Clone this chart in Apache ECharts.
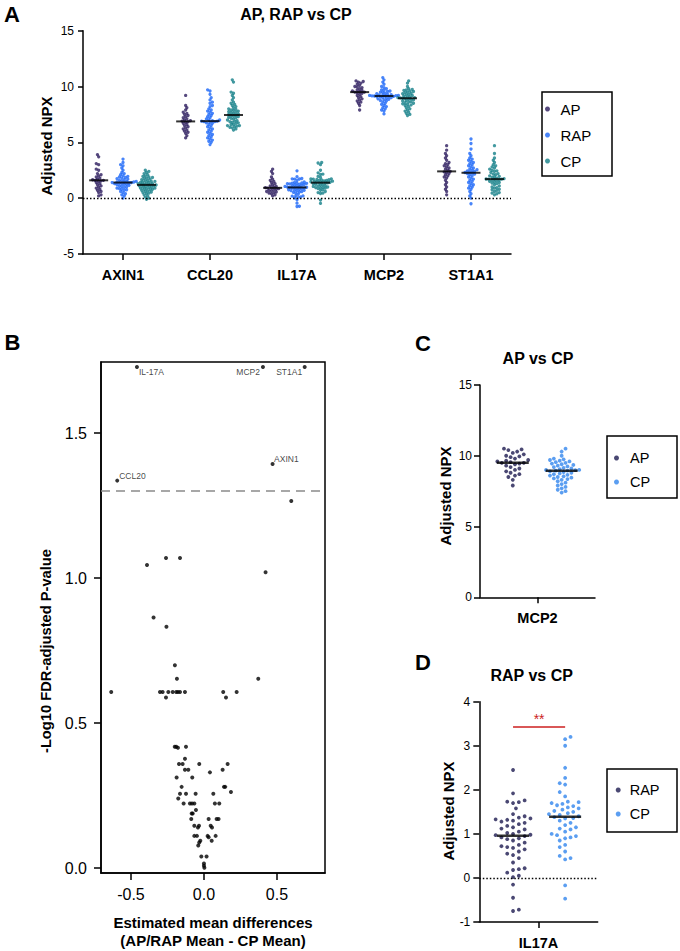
<!DOCTYPE html>
<html><head><meta charset="utf-8">
<script src="https://cdn.jsdelivr.net/npm/echarts@6/dist/echarts.min.js"></script>
<style>html,body{margin:0;padding:0;background:#fff}#c{width:680px;height:951px}</style>
</head><body><div id="c"></div>
<script>
// ---------------- DATA ----------------
// Panel A: Adjusted NPX per gene and group
const genesA = ['AXIN1', 'CCL20', 'IL17A', 'MCP2', 'ST1A1'];
const groupsA = ['AP', 'RAP', 'CP'];

const AXIN1_AP = [3.9, 3.7, 3.1, 3.0, 2.6, 2.5, 2.2, 2.1, 2.0, 1.9, 1.8, 1.7, 1.65, 1.6, 1.6, 1.55, 1.5, 1.4, 1.3, 1.2, 1.1, 1.0, 0.9, 0.8, 0.7, 0.6, 0.5, 0.3, 0.2];
const AXIN1_RAP = [3.5, 3.2, 3.0, 2.9, 2.7, 2.5, 2.3, 2.2, 2.1, 2.0, 1.95, 1.9, 1.85, 1.8, 1.75, 1.7, 1.65, 1.6, 1.55, 1.5, 1.5, 1.45, 1.45, 1.42, 1.4, 1.4, 1.38, 1.35, 1.3, 1.3, 1.25, 1.2, 1.2, 1.15, 1.1, 1.05, 1.0, 0.95, 0.9, 0.85, 0.8, 0.75, 0.7, 0.6, 0.5, 0.4, 0.3, 0.2, 0.0];
const AXIN1_CP = [2.5, 2.4, 2.3, 2.2, 2.1, 2.0, 1.95, 1.9, 1.85, 1.8, 1.75, 1.7, 1.65, 1.6, 1.55, 1.5, 1.5, 1.45, 1.4, 1.4, 1.35, 1.3, 1.3, 1.25, 1.2, 1.2, 1.18, 1.15, 1.1, 1.1, 1.05, 1.0, 1.0, 0.95, 0.9, 0.9, 0.85, 0.8, 0.8, 0.75, 0.7, 0.65, 0.6, 0.55, 0.5, 0.45, 0.4, 0.3, 0.2, 0.1, 0.0, -0.1];

const CCL20_AP = [9.2, 8.3, 8.1, 7.9, 7.7, 7.6, 7.5, 7.4, 7.3, 7.2, 7.1, 7.0, 6.95, 6.9, 6.85, 6.8, 6.7, 6.6, 6.5, 6.4, 6.3, 6.2, 6.1, 6.0, 5.9, 5.8, 5.6, 5.4];
const CCL20_RAP = [9.7, 9.6, 9.3, 9.0, 8.8, 8.6, 8.5, 8.3, 8.2, 8.0, 7.9, 7.8, 7.7, 7.6, 7.5, 7.4, 7.3, 7.2, 7.1, 7.0, 7.0, 6.95, 6.9, 6.9, 6.85, 6.85, 6.8, 6.75, 6.7, 6.6, 6.5, 6.4, 6.3, 6.2, 6.1, 6.0, 5.9, 5.8, 5.7, 5.6, 5.5, 5.4, 5.3, 5.2, 5.1, 5.0, 4.8];
const CCL20_CP = [10.6, 10.4, 9.5, 9.4, 9.2, 9.0, 8.8, 8.6, 8.5, 8.4, 8.3, 8.2, 8.1, 8.0, 7.95, 7.9, 7.85, 7.8, 7.75, 7.7, 7.65, 7.6, 7.55, 7.5, 7.45, 7.4, 7.35, 7.3, 7.25, 7.2, 7.15, 7.1, 7.0, 6.95, 6.9, 6.85, 6.8, 6.75, 6.7, 6.6, 6.6, 6.5, 6.5, 6.45, 6.4, 6.35, 6.3, 6.2, 6.1];

const IL17A_AP = [2.6, 2.4, 2.2, 1.9, 1.7, 1.6, 1.5, 1.4, 1.3, 1.2, 1.1, 1.05, 1.0, 0.95, 0.9, 0.9, 0.85, 0.8, 0.75, 0.7, 0.65, 0.6, 0.55, 0.5, 0.45, 0.4, 0.3, 0.2];
const IL17A_RAP = [2.45, 1.92, 1.76, 1.73, 1.72, 1.7, 1.58, 1.45, 1.4, 1.37, 1.35, 1.33, 1.32, 1.3, 1.28, 1.25, 1.22, 1.18, 1.15, 1.12, 1.1, 1.05, 1.02, 1.0, 0.98, 0.97, 0.95, 0.92, 0.9, 0.88, 0.85, 0.8, 0.75, 0.72, 0.7, 0.68, 0.65, 0.6, 0.55, 0.52, 0.45, 0.35, 0.22, 0.2, 0.18, 0.12, 0.05, 0.02, -0.15, -0.45, -0.72, -0.75];
const IL17A_CP = [3.2, 3.15, 3.0, 2.5, 2.27, 2.15, 2.12, 1.95, 1.85, 1.73, 1.72, 1.7, 1.68, 1.65, 1.63, 1.6, 1.58, 1.55, 1.52, 1.5, 1.47, 1.45, 1.43, 1.4, 1.38, 1.36, 1.35, 1.3, 1.25, 1.2, 1.15, 1.12, 1.1, 1.05, 1.0, 0.97, 0.95, 0.92, 0.9, 0.85, 0.75, 0.7, 0.6, 0.5, 0.45, 0.42, -0.17, -0.47];

const MCP2_AP = [10.5, 10.45, 10.4, 10.3, 10.2, 10.1, 10.0, 9.95, 9.9, 9.8, 9.7, 9.65, 9.6, 9.55, 9.5, 9.5, 9.45, 9.4, 9.3, 9.2, 9.1, 9.0, 8.9, 8.8, 8.7, 8.6, 8.5, 8.3, 7.9];
const MCP2_RAP = [10.8, 10.6, 10.4, 10.2, 10.0, 9.9, 9.8, 9.7, 9.65, 9.6, 9.55, 9.5, 9.45, 9.4, 9.35, 9.3, 9.28, 9.25, 9.22, 9.2, 9.2, 9.18, 9.16, 9.15, 9.15, 9.12, 9.1, 9.1, 9.05, 9.0, 9.0, 8.95, 8.9, 8.85, 8.8, 8.75, 8.7, 8.6, 8.5, 8.4, 8.3, 8.2, 8.1, 8.0, 7.9, 7.8, 7.55];
const MCP2_CP = [10.5, 10.3, 10.0, 9.8, 9.75, 9.7, 9.65, 9.6, 9.55, 9.5, 9.45, 9.4, 9.35, 9.3, 9.25, 9.2, 9.15, 9.1, 9.05, 9.0, 9.0, 8.98, 8.95, 8.95, 8.9, 8.85, 8.8, 8.75, 8.7, 8.65, 8.6, 8.55, 8.5, 8.45, 8.4, 8.35, 8.3, 8.2, 8.1, 8.0, 7.9, 7.8, 7.7, 7.6, 7.5, 7.4];

const ST1A1_AP = [4.7, 4.3, 4.0, 3.8, 3.6, 3.4, 3.2, 3.1, 3.0, 2.9, 2.8, 2.7, 2.6, 2.5, 2.4, 2.35, 2.3, 2.2, 2.1, 2.0, 1.9, 1.8, 1.6, 1.4, 1.2, 1.0, 0.8, 0.6, 0.3];
const ST1A1_RAP = [5.3, 4.9, 4.4, 4.0, 3.8, 3.6, 3.5, 3.4, 3.3, 3.2, 3.1, 3.0, 2.9, 2.8, 2.7, 2.6, 2.55, 2.5, 2.45, 2.4, 2.35, 2.3, 2.25, 2.2, 2.15, 2.1, 2.0, 1.9, 1.8, 1.7, 1.6, 1.5, 1.4, 1.3, 1.2, 1.1, 1.0, 0.9, 0.8, 0.6, 0.4, 0.2, 0.0, -0.5];
const ST1A1_CP = [4.7, 4.0, 3.6, 3.4, 3.2, 3.0, 2.9, 2.8, 2.7, 2.6, 2.5, 2.45, 2.4, 2.3, 2.2, 2.15, 2.1, 2.0, 1.95, 1.9, 1.85, 1.8, 1.75, 1.72, 1.7, 1.7, 1.68, 1.65, 1.6, 1.55, 1.5, 1.45, 1.4, 1.35, 1.3, 1.2, 1.1, 1.0, 0.95, 0.9, 0.8, 0.75, 0.7, 0.6, 0.5, 0.45, 0.4, 0.3];

const panelA = {
  AP: [AXIN1_AP, CCL20_AP, IL17A_AP, MCP2_AP, ST1A1_AP],
  RAP: [AXIN1_RAP, CCL20_RAP, IL17A_RAP, MCP2_RAP, ST1A1_RAP],
  CP: [AXIN1_CP, CCL20_CP, IL17A_CP, MCP2_CP, ST1A1_CP]
};

// Panel B: estimated mean differences vs -log10 FDR-adjusted p
const volcanoDiff = [0.598, -0.26, -0.164, -0.39, 0.422, -0.345, -0.257, -0.199, -0.185, 0.372,
  -0.635, -0.301, -0.283, -0.244, -0.214, -0.19, -0.178, -0.164, -0.13, 0.132, 0.224, -0.26, 0.151,
  -0.2, -0.19, -0.123, -0.178, -0.13, -0.171, -0.146, -0.032, 0.162, -0.13, -0.107, 0.128, 0.041,
  -0.187, -0.08, -0.153, 0.137, 0.146, 0.185, -0.164, -0.123, -0.057, 0.064, -0.176,
  -0.139, -0.096, -0.082, -0.066, 0.075, 0.105, -0.055, -0.084, -0.077, -0.087, 0.032, 0.087, 0.1,
  -0.066, -0.034, 0.046, -0.041, 0.055, -0.066, -0.048, 0.025, 0.08, 0.032, -0.025, 0.053, -0.032,
  -0.039, -0.018, 0.018, 0.0, 0.0, 0.003];
const volcanoLogP = [1.266, 1.069, 1.069, 1.045, 1.02, 0.864, 0.832, 0.699, 0.653, 0.653,
  0.607, 0.607, 0.607, 0.607, 0.607, 0.607, 0.607, 0.607, 0.607, 0.607, 0.607, 0.588, 0.588,
  0.418, 0.418, 0.418, 0.415, 0.377, 0.359, 0.359, 0.359, 0.359, 0.339, 0.339, 0.339, 0.33,
  0.312, 0.312, 0.28, 0.28, 0.28, 0.262, 0.256, 0.256, 0.256, 0.256, 0.24,
  0.223, 0.223, 0.223, 0.223, 0.223, 0.223, 0.2, 0.188, 0.188, 0.169, 0.169, 0.169, 0.169,
  0.146, 0.146, 0.146, 0.14, 0.14, 0.111, 0.111, 0.111, 0.111, 0.106, 0.094, 0.094, 0.088,
  0.078, 0.04, 0.04, 0.016, 0.008, 0.001];
const labeledGenes = ['IL-17A', 'MCP2', 'ST1A1', 'AXIN1', 'CCL20'];
const labeledDiff = [-0.459, 0.404, 0.69, 0.47, -0.594];
const labeledLogP = [1.728, 1.728, 1.728, 1.393, 1.336];
const fdrThreshold = 1.3;
const xTicksB = [-0.5, 0, 0.5];
const yTicksB = [0, 0.5, 1.0, 1.5];

// Panel C: MCP2, AP vs CP (same samples as panel A)
const groupsC = ['AP', 'CP'];
const panelC = [MCP2_AP, MCP2_CP];
// Panel D: IL17A, RAP vs CP (same samples as panel A)
const groupsD = ['RAP', 'CP'];
const panelD = [IL17A_RAP, IL17A_CP];
const sigLabelD = '**';
const sigLevelD = 3.43;

// ---------------- STYLE / LAYOUT ----------------
const FF = '"Liberation Sans", Arial, sans-serif';
const colA = { AP: '#2c1b5e', RAP: '#1c66f7', CP: '#148088' };
const colC = ['#1d1a50', '#3286ee'];
const colD = ['#1d1a50', '#3286ee'];
const offA = { AP: -0.28, RAP: 0, CP: 0.27 };
const offC = [-0.43, 0.42];
const offD = [-0.43, 0.45];

function median(a) { const s = [...a].sort((x, y) => x - y); const n = s.length; return n % 2 ? s[(n - 1) / 2] : (s[n / 2 - 1] + s[n / 2]) / 2; }
// beeswarm layout: horizontal offsets (in x-axis units) computed from the values
function swarm(values, pxY, pxX, d) {
  const idx = values.map((v, i) => i).sort((a, b) => values[a] - values[b]);
  const placed = []; const off = new Array(values.length); const step = d * 0.5;
  idx.forEach((i, n) => {
    const y = values[i] * pxY; let best = 0;
    for (let k = 0; k < 400; k++) {
      const sgn = n % 2 ? 1 : -1;
      const cands = k === 0 ? [0] : [sgn * k * step, -sgn * k * step];
      let f = null;
      for (const c of cands) {
        let ok = true;
        for (const p of placed) { if (Math.abs(p.y - y) < d && (p.x - c) ** 2 + (p.y - y) ** 2 < d * d) { ok = false; break; } }
        if (ok) { f = c; break; }
      }
      if (f !== null) { best = f; break; }
    }
    placed.push({ x: best, y }); off[i] = best / pxX;
  });
  return off;
}

const series = [];
// Panel A
groupsA.forEach(g => {
  const data = [];
  panelA[g].forEach((vals, gi) => {
    const o = swarm(vals, 11.17, 87, 2.4);
    vals.forEach((v, k) => data.push([gi + offA[g] + o[k], v]));
  });
  const s = { name: g, type: 'scatter', xAxisIndex: 0, yAxisIndex: 0, symbol: 'circle', symbolSize: 3.3,
    itemStyle: { color: colA[g] }, data, z: 2, silent: true };
  if (g === 'AP') s.markLine = { silent: true, symbol: 'none', label: { show: false },
    lineStyle: { type: [1.5, 2], color: '#000', width: 1.3 }, data: [{ yAxis: 0 }] };
  series.push(s);
});
const medA = [];
groupsA.forEach(g => panelA[g].forEach((vals, gi) => medA.push([gi + offA[g], median(vals)])));
series.push({ name: 'medianA', type: 'scatter', xAxisIndex: 0, yAxisIndex: 0, symbol: 'rect', symbolSize: [19, 2],
  itemStyle: { color: '#000' }, data: medA, z: 4, silent: true });

// Panel B
series.push({ name: 'volcano', type: 'scatter', xAxisIndex: 1, yAxisIndex: 1, symbolSize: 4, itemStyle: { color: '#000' },
  data: volcanoDiff.map((x, i) => [x, volcanoLogP[i]]), silent: true,
  markLine: { silent: true, symbol: 'none', label: { show: false }, lineStyle: { type: [9, 6], color: '#8a8a8a', width: 1.5 },
    data: [{ yAxis: fdrThreshold }] } });
const labelPos = {
  'IL-17A': { position: 'right', offset: [-5, 5] },
  'MCP2': { position: 'left', offset: [4, 5] },
  'ST1A1': { position: 'left', offset: [4.5, 5] },
  'AXIN1': { position: 'right', offset: [-5.5, -5] },
  'CCL20': { position: 'right', offset: [-5, -5] }
};
series.push({ name: 'volcanoLabeled', type: 'scatter', xAxisIndex: 1, yAxisIndex: 1, symbolSize: 4, itemStyle: { color: '#000' }, silent: true,
  data: labeledGenes.map((n, i) => ({ name: n, value: [labeledDiff[i], labeledLogP[i]],
    label: Object.assign({ show: true, formatter: n, fontSize: 8.5, fontFamily: FF, color: '#111' }, labelPos[n]) })) });

// Panel C
groupsC.forEach((g, gi) => {
  const o = swarm(panelC[gi], 14.15, 57.5, gi === 0 ? 4.4 : 3.9);
  series.push({ name: g + ' ', type: 'scatter', xAxisIndex: 2, yAxisIndex: 2, symbolSize: 3.8, itemStyle: { color: colC[gi] },
    data: panelC[gi].map((v, k) => [offC[gi] + o[k], v]), silent: true });
});
series.push({ name: 'medianC', type: 'scatter', xAxisIndex: 2, yAxisIndex: 2, symbol: 'rect', symbolSize: [32, 2.5], itemStyle: { color: '#000' },
  data: panelC.map((vals, gi) => [offC[gi], median(vals)]), z: 4, silent: true });

// Panel D
groupsD.forEach((g, gi) => {
  const o = swarm(panelD[gi], 44.07, 59.2, gi === 0 ? 5.8 : 5.4);
  const s = { name: g + '  ', type: 'scatter', xAxisIndex: 3, yAxisIndex: 3, symbolSize: 3.8, itemStyle: { color: colD[gi] },
    data: panelD[gi].map((v, k) => [offD[gi] + o[k], v]), silent: true };
  if (gi === 0) s.markLine = { silent: true, symbol: 'none', label: { show: false },
    data: [
      { yAxis: 0, lineStyle: { type: [1.5, 2], color: '#000', width: 1.3 } },
      [{ coord: [offD[0], sigLevelD], lineStyle: { type: 'solid', color: '#cc1f1f', width: 1.5 },
         label: { show: true, formatter: sigLabelD, position: 'middle', color: '#cc1f1f', fontSize: 14, fontFamily: FF, distance: 1 } },
       { coord: [offD[1], sigLevelD] }]
    ] };
  series.push(s);
});
series.push({ name: 'medianD', type: 'scatter', xAxisIndex: 3, yAxisIndex: 3, symbol: 'rect', symbolSize: [32, 2.5], itemStyle: { color: '#000' },
  data: panelD.map((vals, gi) => [offD[gi], median(vals)]), z: 4, silent: true });

// axes helpers
const axLine = { show: true, onZero: false, lineStyle: { color: '#000', width: 1.5 } };
const axTick = (len, vals) => Object.assign({ show: true, length: len, lineStyle: { color: '#000', width: 1.5 } }, vals ? { customValues: vals } : {});

const option = {
  animation: false,
  backgroundColor: '#fff',
  grid: [
    { left: 83, right: 169, top: 30.7, bottom: 697 },
    { left: 101, right: 355, top: 362, bottom: 78, show: true, borderColor: '#000', borderWidth: 1.5, backgroundColor: 'transparent' },
    { left: 480, right: 85, top: 385, bottom: 353.7 },
    { left: 479.3, right: 82.3, top: 701.7, bottom: 29 }
  ],
  xAxis: [
    { gridIndex: 0, type: 'value', min: -0.46, max: 4.46, axisLine: axLine, axisTick: axTick(6, [0, 1, 2, 3, 4]),
      axisLabel: { customValues: [0, 1, 2, 3, 4], formatter: v => genesA[Math.round(v)], fontFamily: FF, fontWeight: 'bold', fontSize: 14.5, color: '#000', margin: 13 },
      splitLine: { show: false } },
    { gridIndex: 1, type: 'value', min: -0.705, max: 0.829, axisLine: axLine, axisTick: axTick(7, xTicksB),
      axisLabel: { customValues: xTicksB, formatter: v => v.toFixed(1), fontFamily: FF, fontSize: 16, color: '#000', margin: 13 },
      splitLine: { show: false } },
    { gridIndex: 2, type: 'value', min: -1, max: 1, axisLine: axLine, axisTick: axTick(6, [0]),
      axisLabel: { customValues: [0], formatter: () => 'MCP2', fontFamily: FF, fontWeight: 'bold', fontSize: 14.5, color: '#000', margin: 13 },
      splitLine: { show: false } },
    { gridIndex: 3, type: 'value', min: -1, max: 1, axisLine: axLine, axisTick: axTick(6, [0]),
      axisLabel: { customValues: [0], formatter: () => 'IL17A', fontFamily: FF, fontWeight: 'bold', fontSize: 14.5, color: '#000', margin: 13 },
      splitLine: { show: false } }
  ],
  yAxis: [
    { gridIndex: 0, type: 'value', min: -5, max: 15, interval: 5, axisLine: axLine, axisTick: axTick(5),
      axisLabel: { fontFamily: FF, fontSize: 12, color: '#000', margin: 9 }, splitLine: { show: false } },
    { gridIndex: 1, type: 'value', min: -0.017, max: 1.745, axisLine: axLine, axisTick: axTick(7, yTicksB),
      axisLabel: { customValues: yTicksB, formatter: v => v.toFixed(1), fontFamily: FF, fontSize: 16, color: '#000', margin: 14 },
      splitLine: { show: false } },
    { gridIndex: 2, type: 'value', min: 0, max: 15, interval: 5, axisLine: axLine, axisTick: axTick(6),
      axisLabel: { fontFamily: FF, fontSize: 12, color: '#000', margin: 8 }, splitLine: { show: false } },
    { gridIndex: 3, type: 'value', min: -1, max: 4, interval: 1, axisLine: axLine, axisTick: axTick(6),
      axisLabel: { fontFamily: FF, fontSize: 12, color: '#000', margin: 9 }, splitLine: { show: false } }
  ],
  legend: [
    { data: groupsA, orient: 'vertical', left: 545, top: 101.5, padding: 0, itemGap: 11, icon: 'circle', itemWidth: 16, itemHeight: 5,
      selectedMode: false, textStyle: { fontFamily: FF, fontSize: 15, color: '#000' } },
    { data: groupsC.map(g => g + ' '), orient: 'vertical', left: 614, top: 450.5, padding: 0, itemGap: 9, icon: 'circle', itemWidth: 17, itemHeight: 5,
      selectedMode: false, formatter: n => n.trim(), textStyle: { fontFamily: FF, fontSize: 14.5, color: '#000' } },
    { data: groupsD.map(g => g + '  '), orient: 'vertical', left: 615.7, top: 782.5, padding: 0, itemGap: 9, icon: 'circle', itemWidth: 13, itemHeight: 5,
      selectedMode: false, formatter: n => n.trim(), textStyle: { fontFamily: FF, fontSize: 14.5, color: '#000' } }
  ],
  graphic: [],
  series
};

function txt(t, x, y, size, bold, rot) {
  return { type: 'text', x, y, rotation: rot || 0, silent: true,
    style: { text: t, fill: '#000', fontSize: size, fontWeight: bold ? 'bold' : 'normal', fontFamily: FF,
      align: 'center', verticalAlign: 'middle', textAlign: 'center', textVerticalAlign: 'middle' } };
}
function box(x, y, w, h) {
  return { type: 'rect', shape: { x, y, width: w, height: h }, silent: true, style: { fill: 'none', stroke: '#000', lineWidth: 1.5 } };
}
option.graphic = [
  txt('A', 12, 14, 22, true), txt('B', 12.5, 342.5, 22, true), txt('C', 423, 343, 22, true), txt('D', 423, 662, 22, true),
  txt('AP, RAP vs CP', 296, 14, 16, true), txt('AP vs CP', 538, 358, 16, true), txt('RAP vs CP', 531.7, 675, 16, true),
  txt('Adjusted NPX', 46.5, 146, 15, true, Math.PI / 2),
  txt('-Log10 FDR-adjusted P-value', 46, 651, 14.7, true, Math.PI / 2),
  txt('Adjusted NPX', 445, 496, 15, true, Math.PI / 2),
  txt('Adjusted NPX', 448.3, 811, 15, true, Math.PI / 2),
  txt('Estimated mean differences', 213, 922, 15, true),
  txt('(AP/RAP Mean - CP Mean)', 213, 940, 15, true),
  box(542, 92, 70, 84), box(607, 436, 70, 62), box(607, 769, 70, 63)
];

const chart = echarts.init(document.getElementById('c'), null, { renderer: 'svg', width: 680, height: 951 });
chart.setOption(option);
</script>
</body></html>
